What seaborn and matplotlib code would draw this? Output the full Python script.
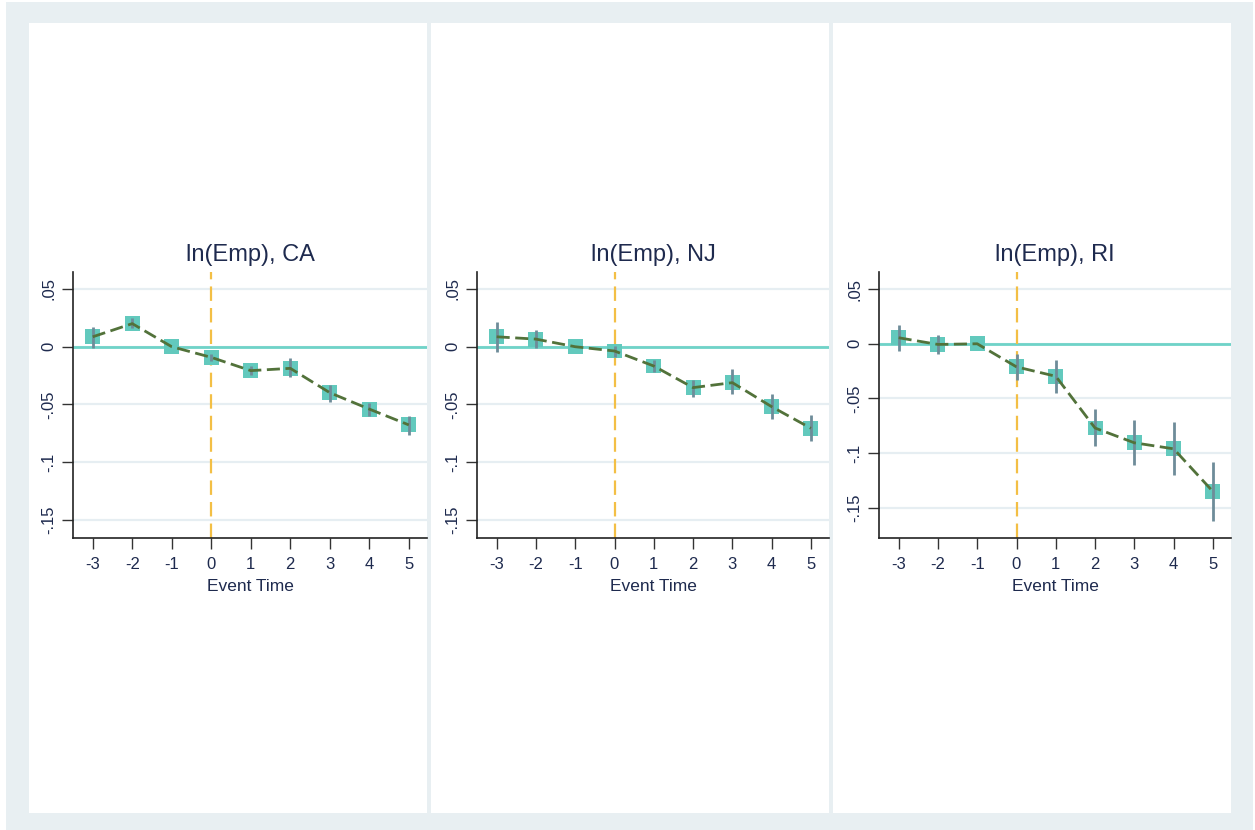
import numpy as np
import pandas as pd
import matplotlib
matplotlib.use("Agg")
import matplotlib.pyplot as plt
from matplotlib.patches import Rectangle
import seaborn as sns

sns.set_style("white")
plt.rcParams['font.family'] = ['Liberation Sans', 'DejaVu Sans']

# event time and estimates
event_time = [-3, -2, -1, 0, 1, 2, 3, 4, 5]
titles = ["ln(Emp), CA", "ln(Emp), NJ", "ln(Emp), RI"]

ca_coef = [0.0086, 0.020, 0.0, -0.0092, -0.0207, -0.0187, -0.0398, -0.054, -0.0677]
ca_lo = [-0.0014, 0.016, 0.0, -0.012, -0.0245, -0.026, -0.0475, -0.060, -0.076]
ca_hi = [0.0167, 0.0245, 0.0, -0.006, -0.017, -0.010, -0.033, -0.049, -0.060]

nj_coef = [0.0086, 0.0066, 0.0, -0.0037, -0.0167, -0.0354, -0.0311, -0.0519, -0.0706]
nj_lo = [-0.0043, -0.0009, 0.0, -0.0086, -0.0216, -0.0432, -0.0412, -0.0625, -0.082]
nj_hi = [0.0216, 0.0144, 0.0, 0.0006, -0.0115, -0.0288, -0.0196, -0.0412, -0.059]

ri_coef = [0.0055, -0.0006, 0.0, -0.0211, -0.0297, -0.077, -0.0905, -0.096, -0.135]
ri_lo = [-0.0067, -0.0089, 0.0, -0.0333, -0.0446, -0.0936, -0.1107, -0.1199, -0.1618]
ri_hi = [0.0171, 0.008, 0.0, -0.0095, -0.015, -0.060, -0.070, -0.0716, -0.1076]

yticks = [0.05, 0, -0.05, -0.1, -0.15]
ytick_labels = [".05", "0", "-.05", "-.1", "-.15"]

series = [(ca_coef, ca_lo, ca_hi), (nj_coef, nj_lo, nj_hi), (ri_coef, ri_lo, ri_hi)]
ylims = [(-0.1656, 0.0647), (-0.1656, 0.0647), (-0.1775, 0.0656)]

W, H = 1255, 830
fig = plt.figure(figsize=(W / 100, H / 100), dpi=100)
fig.patch.set_facecolor("white")

# stata-like background and panel boxes
fig.patches.append(Rectangle((6 / W, 0), 1247 / W, 828 / H, transform=fig.transFigure,
                             facecolor="#e8eff2", edgecolor="none", zorder=-20))
panels_px = [(29, 427), (431, 829), (833, 1231)]
for x0, x1 in panels_px:
    fig.patches.append(Rectangle((x0 / W, (830 - 813) / H), (x1 - x0) / W, (813 - 23) / H,
                                 transform=fig.transFigure, facecolor="white",
                                 edgecolor="none", zorder=-10))

axes_px = [(73, 427), (477, 829), (879, 1231)]
navy = "#1e2a4e"
for i, (l, r) in enumerate(axes_px):
    ax = fig.add_axes([l / W, (830 - 538) / H, (r - l) / W, (538 - 272) / H])
    ax.set_facecolor("none")
    coef, lo, hi = series[i]
    df = pd.DataFrame({"t": event_time, "b": coef, "lo": lo, "hi": hi})

    for yv in yticks:
        ax.axhline(yv, color="#e6eef2", lw=1.6, zorder=0)
    ax.axhline(0, color="#6fd3c8", lw=2, zorder=1)
    ax.axvline(0, color="#f3bf45", lw=1.6, dashes=(6.5, 3.2), zorder=1)

    sns.scatterplot(data=df, x="t", y="b", marker="s", s=115, color="#62c9bd",
                    edgecolor="none", ax=ax, zorder=3)
    ax.vlines(df["t"], df["lo"], df["hi"], color="#6e8c99", lw=2, zorder=4)
    sns.lineplot(data=df, x="t", y="b", color="#52723a", lw=2, dashes=False,
                 ax=ax, zorder=5).lines[-1].set_dashes((4.7, 2))

    ax.set_xlim(-3.5, 5.46)
    ax.set_ylim(*ylims[i])
    ax.set_xticks(event_time)
    ax.set_xticklabels([str(t) for t in event_time], fontsize=12, color=navy)
    ax.set_yticks(yticks)
    ax.set_yticklabels(ytick_labels, fontsize=12, color=navy, rotation=90, va="center")
    ax.set_xlabel("Event Time", fontsize=12.5, color=navy, labelpad=5)
    ax.set_ylabel("")
    ax.set_title(titles[i], fontsize=17, color=navy, pad=8)
    ax.tick_params(axis="x", direction="out", length=8, width=1, color="#333333",
                   bottom=True, pad=6)
    ax.tick_params(axis="y", direction="out", length=8, width=1, color="#333333",
                   left=True, pad=4)
    sns.despine(ax=ax)
    for sp in ["left", "bottom"]:
        ax.spines[sp].set_color("#222222")
        ax.spines[sp].set_linewidth(1.2)

fig.savefig("out.png", dpi=100)
